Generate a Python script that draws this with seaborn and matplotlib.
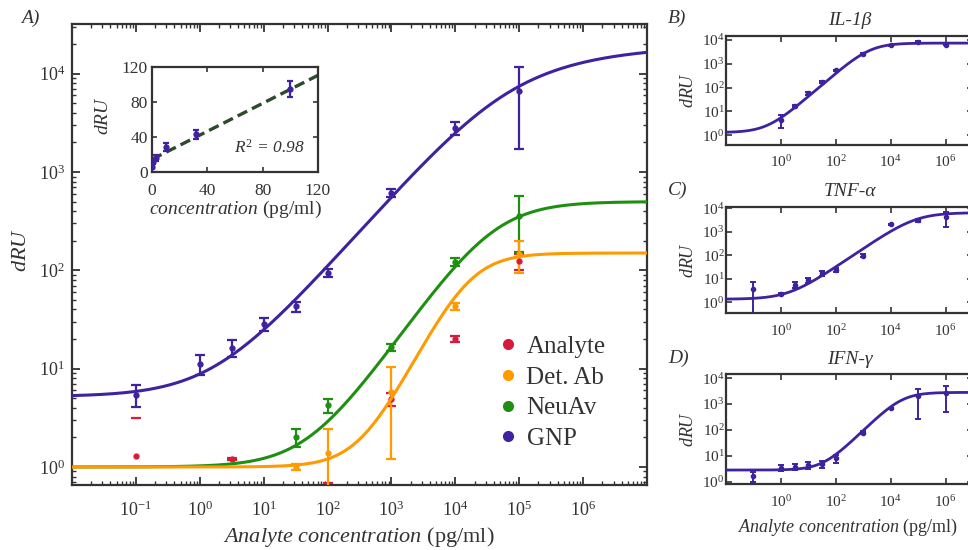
import numpy as np
import pandas as pd
import matplotlib
matplotlib.use("Agg")
import matplotlib.pyplot as plt
import seaborn as sns
from matplotlib.lines import Line2D
from matplotlib.ticker import LogLocator, NullFormatter, NullLocator, FixedLocator, LogFormatterMathtext

# ---------------- data ----------------
# main panel A
gnp_x = [0.1, 1, 3.16, 10, 31.6, 100, 1e3, 1e4, 1e5]
gnp_y = [5.45, 11.2, 16.3, 28.5, 43, 95, 615, 2800, 6700]
gnp_err = [1.35, 2.6, 3.3, 4.5, 5, 9, 55, 400, 5000]

neuav_x = [31.6, 100, 1e3, 1e4, 1e5]
neuav_y = [2.0, 4.25, 16.5, 122, 360]
neuav_err = [0.42, 0.72, 1.5, 11, 205]

detab_x = [31.6, 100, 1e3, 1e4, 1e5]
detab_y = [1.0, 1.38, 5.8, 43, 145]
detab_err = [0.07, 1.04, 4.6, 3.7, 52]

analyte_x = [0.1, 3.16, 100, 1e3, 1e4, 1e5]
analyte_y = [1.3, 1.2, 0.6, 4.9, 20, 123]
analyte_err = [1.83, 0.03, 0.08, 0.7, 1.5, 22]

# fitted curve parameters (bottom, top, log10 EC50, slope, asymmetry)
gnp_fit = (5.2, 19950, 4.6, 0.733, 0.43)
neuav_fit = (1.0, 500, 4.6, 0.93, 1.0)
detab_fit = (1.0, 150, 4.2, 1.3, 1.0)

# inset: linear range
inset_x = [0.1, 1, 3.16, 10, 31.6, 100]
inset_y = [5.45, 11.2, 16.3, 28.5, 43, 95]
inset_err = [1.35, 2.6, 3.3, 4.5, 5, 9]
inset_line = (0.80, 14.5)   # slope, intercept
r2_text = "$\\mathit{R}^{2}$ = 0.98"

# right panels
il1b_x = [1, 3.16, 10, 31.6, 100, 1e3, 1e4, 1e5, 1e6]
il1b_y = [4.5, 16.8, 57, 178, 525, 2660, 6160, 8200, 6450]
il1b_err = [2.5, 2, 6, 15, 40, 200, 300, 600, 400]
il1b_fit = (1.3, 7400, 3.25, 1.0, 1.0)

tnf_x = [0.1, 1, 3.16, 10, 31.6, 100, 1e3, 1e4, 1e5, 1e6]
tnf_y = [3.7, 2.2, 5.5, 8.9, 17, 23.8, 97, 2090, 3170, 4430]
tnf_err = [3.5, 0.2, 1.6, 2.0, 3.5, 4, 15, 150, 450, 2770]
tnf_fit = (1.35, 6500, 4.9, 0.8, 1.0)

ifn_x = [0.1, 1, 3.16, 10, 31.6, 100, 1e3, 1e4, 1e5, 1e6]
ifn_y = [1.7, 3.5, 3.8, 4.4, 4.8, 8.0, 79, 690, 2050, 2600]
ifn_err = [0.7, 1.0, 1.0, 1.2, 1.5, 2.6, 12, 40, 1780, 2130]
ifn_fit = (2.8, 2800, 4.4, 1.05, 1.0)

legend_labels = ["Analyte", "Det. Ab", "NeuAv", "GNP"]
right_titles = ["IL-1\u03b2", "TNF-\u03b1", "IFN-\u03b3"]
panel_labels = ["A)", "B)", "C)", "D)"]

# ---------------- style ----------------
C_RED = "#d81b3c"
C_ORANGE = "#ff9a00"
C_GREEN = "#1f8f12"
C_PURPLE = "#3f22a0"
C_DASH = "#2d4a2d"
TXT = "#333333"

sns.set_theme(style="ticks")
plt.rcParams.update({
    "font.family": ["Liberation Serif", "DejaVu Serif"],
    "mathtext.fontset": "custom",
    "mathtext.rm": "Liberation Serif",
    "mathtext.it": "Liberation Serif:italic",
    "mathtext.bf": "Liberation Serif:bold",
    "xtick.direction": "in", "ytick.direction": "in",
    "xtick.top": True, "ytick.right": True,
    "axes.edgecolor": "#333333",
    "xtick.color": "#333333", "ytick.color": "#333333",
    "xtick.labelcolor": TXT, "ytick.labelcolor": TXT,
    "axes.labelcolor": TXT, "text.color": TXT,
    "axes.facecolor": "white", "figure.facecolor": "white",
})

W, H = 968, 550
fig = plt.figure(figsize=(W / 100, H / 100), dpi=100)


def px_axes(l, t, r, b):
    return fig.add_axes([l / W, 1 - b / H, (r - l) / W, (b - t) / H])


def pl(x, p):
    a, d, lc, b, g = p
    u = 10 ** (b * (np.log10(x) - lc))
    return a + (d - a) * (1 - (1 + u) ** (-g))


def draw_err(ax, x, y, e, color, cap, lw, ms):
    x, y, e = map(np.asarray, (x, y, e))
    ok = (y - e) > 0
    ax.errorbar(x[ok], y[ok], yerr=e[ok], fmt="o", ms=ms, color=color,
                elinewidth=lw, capsize=cap, capthick=lw, zorder=3)
    if (~ok).any():
        ax.plot(x[~ok], y[~ok], "o", ms=ms, color=color, zorder=3)
        ax.plot(x[~ok], (y + e)[~ok], "_", ms=2 * cap, mew=lw, color=color, zorder=3)


def draw_curve(ax, p, color, lw):
    xs = np.logspace(-2, 7, 500)
    sns.lineplot(x=xs, y=pl(xs, p), ax=ax, color=color, lw=lw, zorder=4)


def center_labels(ax, xc, yc):
    ax.xaxis.set_label_coords(*xc)
    ax.yaxis.set_label_coords(*yc)
    ax.xaxis.label.set_verticalalignment("center")
    ax.yaxis.label.set_verticalalignment("center")


# ---------------- panel A ----------------
ax = px_axes(72, 24, 647, 485)
ax.set_xscale("log")
ax.set_yscale("log")
ax.set_xlim(1e-2, 1e7)
ax.set_ylim(0.656, 3.2e4)

draw_err(ax, analyte_x, analyte_y, analyte_err, C_RED, 3.8, 1.6, 3.5)
draw_err(ax, neuav_x, neuav_y, neuav_err, C_GREEN, 3.8, 1.6, 3.5)
draw_err(ax, detab_x, detab_y, detab_err, C_ORANGE, 3.8, 1.6, 3.5)
draw_err(ax, gnp_x, gnp_y, gnp_err, C_PURPLE, 3.8, 1.6, 3.5)
draw_curve(ax, neuav_fit, C_GREEN, 2.2)
draw_curve(ax, detab_fit, C_ORANGE, 2.2)
draw_curve(ax, gnp_fit, C_PURPLE, 2.2)

ax.xaxis.set_major_locator(FixedLocator([10.0 ** k for k in range(-1, 7)]))
ax.xaxis.set_major_formatter(LogFormatterMathtext())
ax.xaxis.set_minor_locator(LogLocator(base=10, subs=np.arange(2, 10), numticks=30))
ax.xaxis.set_minor_formatter(NullFormatter())
ax.yaxis.set_major_locator(FixedLocator([10.0 ** k for k in range(0, 5)]))
ax.yaxis.set_major_formatter(LogFormatterMathtext())
ax.yaxis.set_minor_locator(LogLocator(base=10, subs=np.arange(2, 10), numticks=30))
ax.yaxis.set_minor_formatter(NullFormatter())
ax.tick_params(which="major", length=6, width=1.3, labelsize=13, pad=5)
ax.tick_params(axis="x", which="major", pad=11)
ax.tick_params(which="minor", length=3, width=1.0)
for s in ax.spines.values():
    s.set_linewidth(1.6)
ax.set_xlabel("$\\mathit{Analyte\\ concentration}$ (pg/ml)", fontsize=16)
ax.set_ylabel("$\\mathit{dRU}$", fontsize=16)
center_labels(ax, (0.498, -0.113), (-0.087, 0.51))

handles = [Line2D([], [], marker="o", ls="", color=c, ms=7)
           for c in (C_RED, C_ORANGE, C_GREEN, C_PURPLE)]
ax.legend(handles, legend_labels, loc="center left", bbox_to_anchor=(0.71, 0.20),
          frameon=False, fontsize=18, handlelength=0.8, handletextpad=0.35,
          labelspacing=0.33, borderpad=0.2)

# ---------------- inset ----------------
ins = px_axes(152, 67, 318, 172)
draw_err(ins, inset_x, inset_y, inset_err, C_PURPLE, 2.5, 1.6, 3.5)
lx = np.array([0, 120])
sns.lineplot(x=lx, y=inset_line[0] * lx + inset_line[1], ax=ins, color=C_DASH,
             lw=2.4, dashes=False, zorder=2)
ins.lines[-1].set_dashes((3.2, 1.6))
ins.set_xlim(0, 120)
ins.set_ylim(0, 120)
ins.set_xticks([0, 40, 80, 120])
ins.set_yticks([0, 40, 80, 120])
ins.tick_params(length=3.5, width=1.2, labelsize=12.5, pad=3)
ins.tick_params(axis="x", pad=8)
for s in ins.spines.values():
    s.set_linewidth(1.6)
ins.text(85, 28, r2_text, fontsize=12.5, style="italic", ha="center", va="center")
ins.set_xlabel("$\\mathit{concentration}$ (pg/ml)", fontsize=14)
ins.set_ylabel("$\\mathit{dRU}$", fontsize=14)
center_labels(ins, (0.5, -0.36), (-0.29, 0.54))

# ---------------- right panels ----------------
right_specs = [
    (36, 144.5, (0.41, 1.47e4), il1b_x, il1b_y, il1b_err, il1b_fit),
    (206.7, 313.3, (0.34, 1.17e4), tnf_x, tnf_y, tnf_err, tnf_fit),
    (374.3, 484, (0.81, 1.4e4), ifn_x, ifn_y, ifn_err, ifn_fit),
]
for i, (t, b, ylim, xx, yy, ee, fp) in enumerate(right_specs):
    rx = px_axes(726, t, 973, b)
    rx.set_xscale("log")
    rx.set_yscale("log")
    rx.set_xlim(1e-2, 1e7)
    rx.set_ylim(*ylim)
    draw_err(rx, xx, yy, ee, C_PURPLE, 2.2, 1.4, 3)
    draw_curve(rx, fp, C_PURPLE, 2.0)
    rx.xaxis.set_major_locator(FixedLocator([1, 1e2, 1e4, 1e6]))
    rx.xaxis.set_major_formatter(LogFormatterMathtext())
    rx.xaxis.set_minor_locator(NullLocator())
    rx.yaxis.set_major_locator(FixedLocator([1, 10, 1e2, 1e3, 1e4]))
    rx.yaxis.set_major_formatter(LogFormatterMathtext())
    rx.yaxis.set_minor_locator(NullLocator())
    rx.tick_params(length=4, width=1.2, labelsize=11, pad=3)
    rx.tick_params(axis="x", pad=7)
    rx.tick_params(axis="y", pad=1)
    for s in rx.spines.values():
        s.set_linewidth(1.6)
    rx.set_ylabel("$\\mathit{dRU}$", fontsize=13)
    rx.text(0.5, 1.06, right_titles[i], transform=rx.transAxes, fontsize=14,
            style="italic", ha="center", va="bottom")
    if i == 2:
        rx.set_xlabel("$\\mathit{Analyte\\ concentration}$ (pg/ml)", fontsize=13)
        center_labels(rx, (0.495, -0.40), (-0.152, 0.5))
    else:
        center_labels(rx, (0.5, -0.3), (-0.152, 0.5))

# panel labels
for lab, (x, y) in zip(panel_labels, [(21, 18), (668, 18), (668, 190), (668, 358)]):
    fig.text(x / W, 1 - y / H, lab, fontsize=14, style="italic", ha="left", va="center")

fig.savefig("out.png", dpi=100)
